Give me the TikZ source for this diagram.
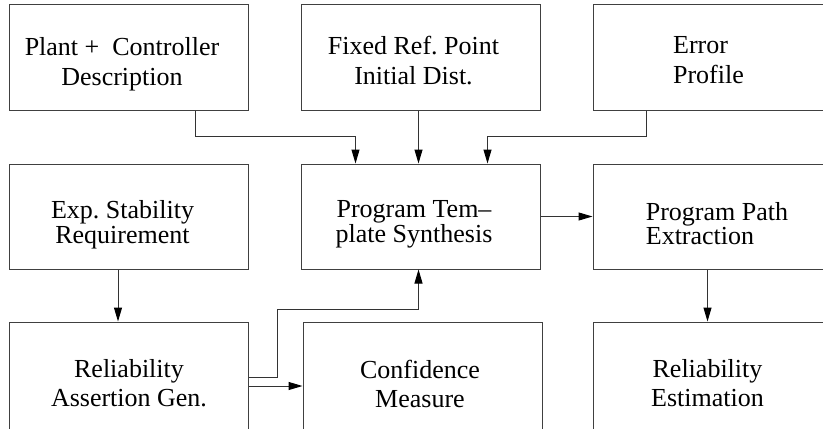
\documentclass[tikz,border=0pt]{standalone}
\usepackage{fontspec}
\setmainfont{Liberation Serif}
\usetikzlibrary{calc}
\usetikzlibrary{arrows.meta}
\frenchspacing

\begin{document}
\begin{tikzpicture}[x=0.75pt,y=0.75pt,yscale=-1,xscale=1,
  blk/.style={draw=black!75,line width=0.75pt,minimum width=179.25pt,minimum height=78.75pt,inner sep=0pt},
  blklow/.style={blk,minimum height=88.5pt},
  txt/.style={inner sep=0pt,align=center,font=\fontsize{19.5}{22.5}\selectfont},
  txtmid/.style={txt,font=\fontsize{19.5}{18.5}\selectfont},
  txtlow/.style={txt,font=\fontsize{19.5}{21.75}\selectfont},
  conn/.style={draw=black!80,line width=0.75pt,-{Triangle[length=10.5pt,width=6pt,color=black]}}]
\useasboundingbox (0,0) rectangle (823,428);
\clip (0,0) rectangle (823,428);

%Shape: Rectangle (top row)
\node [blk] (plant) at (129,57.5) {};
\node [blk] (fixed) at (420.5,57.5) {};
\node [blk] (error) at (712.5,57.5) {};
%Shape: Rectangle (middle row)
\node [blk] (exp) at (129,216.5) {};
\node [blk] (synth) at (420.5,216.5) {};
\node [blk] (path) at (712.5,216.5) {};
%Shape: Rectangle (bottom row, cut at the page edge)
\node [blklow] (assert) at (129,381) {};
\node [blklow] (conf) at (422.5,381) {};
\node [blklow] (estim) at (712.5,381) {};

% Text Node
\node [txt] (plant-txt) at ($(plant)+(-7,6.5)$) {Plant +\enspace Controller\\Description};
% Text Node
\node [txt] (fixed-txt) at ($(fixed)+(-7,3.5)$) {Fixed Ref. Point\\Initial Dist.};
% Text Node
\node [txt,align=left] (error-txt) at ($(error)+(-4,3)$) {Error\\Profile};
% Text Node
\node [txtmid] (exp-txt) at ($(exp)+(-6.5,8.5)$) {Exp. Stability\\Requirement};
% Text Node
\node [txtmid] (synth-txt) at ($(synth)+(-6.5,8)$) {Program Tem–\\plate Synthesis};
% Text Node
\node [txtmid,align=left] (path-txt) at ($(path)+(4.5,7)$) {Program Path\\Extraction};
% Text Node
\node [txtlow] (assert-txt) at ($(assert)+(0,2.5)$) {Reliability\\Assertion Gen.};
% Text Node
\node [txtlow] (conf-txt) at ($(conf)+(-2.5,2.5)$) {Confidence\\Measure};
% Text Node
\node [txtlow] (estim-txt) at ($(estim)+(-5,2.5)$) {Reliability\\Estimation};

% Connection
\draw [conn] ($(plant.south)+(66,0)$) |- ($(synth.north)+(-65,-27)$) -- ($(synth.north)+(-65,0)$);
% Connection
\draw [conn] ($(fixed.south)+(-2,0)$) -- ($(synth.north)+(-2,0)$);
% Connection
\draw [conn] ($(error.south)+(-66,0)$) |- ($(synth.north)+(67,-27)$) -- ($(synth.north)+(67,0)$);
% Connection
\draw [conn] (synth.east) -- (path.west);
% Connection
\draw [conn] ($(exp.south)+(-11,0)$) -- ($(assert.north)+(-11,0)$);
% Connection
\draw [conn] ($(path.south)+(-5,0)$) -- ($(estim.north)+(-5,0)$);
% Connection
\draw [conn] ($(assert.east)+(0,5)$) -- ($(conf.west)+(0,5)$);
% Connection
\draw [conn] ($(assert.east)+(0,-4)$) -| ($(assert.east)+(28,-72)$) -| ($(synth.south)+(-2,0)$);

\end{tikzpicture}
\end{document}
